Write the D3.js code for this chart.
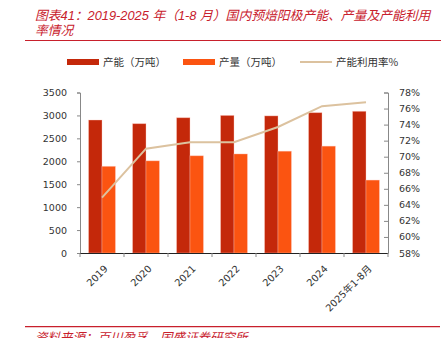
<!DOCTYPE html>
<html>
<head>
<meta charset="utf-8">
<script src="https://cdn.jsdelivr.net/npm/d3@7/dist/d3.min.js"></script>
<style>
  html, body { margin: 0; padding: 0; background: #fff; }
  svg { display: block; }
</style>
</head>
<body>
<div id="chart"></div>
<script>
// Categories and series
const categories = ["2019", "2020", "2021", "2022", "2023", "2024", "2025年1-8月"];
const capacity = [2900, 2820, 2950, 3000, 2990, 3060, 3090];     // 产能（万吨）
const output = [1890, 2010, 2120, 2160, 2220, 2330, 1590];       // 产量（万吨）
const utilization = [64.9, 71.0, 71.8, 71.8, 73.7, 76.3, 76.8];  // 产能利用率%
const leftTicks = [0, 500, 1000, 1500, 2000, 2500, 3000, 3500];
const rightTicks = [58, 60, 62, 64, 66, 68, 70, 72, 74, 76, 78];
const seriesNames = ["产能（万吨）", "产量（万吨）", "产能利用率%"];

const W = 447, H = 338;
const plot = { left: 80, right: 388, top: 92.5, bottom: 253 };
const colors = { capacity: "#c4280a", output: "#fb5411", line: "#dcc29f", red: "#c8202c", text: "#333" };
const numFont = "'DejaVu Sans', Verdana, sans-serif";
const cjkFont = "'Noto Sans CJK SC', sans-serif";

const svg = d3.select("#chart").append("svg").attr("width", W).attr("height", H);

// Title
const title = svg.append("g")
  .attr("fill", colors.red)
  .attr("font-style", "italic")
  .attr("font-size", 12.8)
  .attr("font-family", "'Liberation Sans', 'Noto Sans CJK SC', sans-serif");
title.append("text").attr("x", 35).attr("y", 20)
  .text("图表41：2019-2025 年（1-8 月）国内预焙阳极产能、产量及产能利用");
title.append("text").attr("x", 35).attr("y", 35).text("率情况");
svg.append("line").attr("x1", 25).attr("x2", 441).attr("y1", 40.5).attr("y2", 40.5)
  .attr("stroke", colors.red).attr("stroke-width", 1.2);

// Scales
const x = d3.scaleBand().domain(categories).range([plot.left, plot.right]).paddingInner(0.39).paddingOuter(0.195);
const xOuter = d3.scaleBand().domain(categories).range([plot.left, plot.right]);
const sub = d3.scaleBand().domain(["capacity", "output"]).range([0, x.bandwidth()]);
const yL = d3.scaleLinear().domain([0, 3500]).range([plot.bottom, plot.top]);
const yR = d3.scaleLinear().domain([58, 78]).range([plot.bottom, plot.top]);

// Bars
const bars = svg.append("g");
categories.forEach((c, i) => {
  [["capacity", capacity[i]], ["output", output[i]]].forEach(([key, v]) => {
    bars.append("rect")
      .attr("x", x(c) + sub(key))
      .attr("y", yL(v))
      .attr("width", sub.bandwidth())
      .attr("height", yL(0) - yL(v))
      .attr("fill", colors[key])
      .attr("stroke", "rgba(255,200,190,0.45)")
      .attr("stroke-width", 0.8);
  });
});

// Utilization line
const line = d3.line()
  .x((d, i) => xOuter(categories[i]) + xOuter.bandwidth() / 2)
  .y(d => yR(d));
svg.append("path").datum(utilization)
  .attr("d", line)
  .attr("fill", "none")
  .attr("stroke", colors.line)
  .attr("stroke-width", 2);

// Left axis
const axL = svg.append("g").attr("transform", `translate(${plot.left},0)`)
  .call(d3.axisLeft(yL).tickValues(leftTicks).tickSize(3).tickPadding(10).tickFormat(d3.format("d")));
axL.select(".domain").attr("stroke", "#888");
axL.selectAll(".tick line").attr("stroke", "#888");
axL.selectAll("text").attr("font-family", numFont).attr("font-size", 9.5).attr("fill", colors.text);

// Right axis (ticks point inward)
const axR = svg.append("g").attr("transform", `translate(${plot.right},0)`)
  .call(d3.axisRight(yR).tickValues(rightTicks).tickSize(-4).tickPadding(11).tickFormat(d => d + "%"));
axR.select(".domain").attr("stroke", "#888");
axR.selectAll(".tick line").attr("stroke", "#888");
axR.selectAll("text").attr("font-family", numFont).attr("font-size", 9.5).attr("fill", colors.text);

// Bottom axis: ticks at category boundaries
const axB = svg.append("g");
axB.append("line").attr("x1", plot.left).attr("x2", plot.right)
  .attr("y1", plot.bottom + 0.5).attr("y2", plot.bottom + 0.5).attr("stroke", "#222");
const bounds = categories.map(c => xOuter(c)).concat([xOuter.range()[1]]);
axB.selectAll("line.tk").data(bounds).join("line").attr("class", "tk")
  .attr("x1", d => d).attr("x2", d => d)
  .attr("y1", plot.bottom).attr("y2", plot.bottom + 4)
  .attr("stroke", "#888");
axB.selectAll("text").data(categories).join("text")
  .attr("transform", c => `translate(${xOuter(c) + xOuter.bandwidth() / 2 + 4},${plot.bottom + 14}) rotate(-45)`)
  .attr("text-anchor", "end")
  .attr("dy", "0.35em")
  .attr("font-family", "'DejaVu Sans', 'Noto Sans CJK SC', sans-serif")
  .attr("font-size", 9.8)
  .attr("fill", colors.text)
  .text(c => c);

// Legend
const legend = svg.append("g").attr("font-family", cjkFont).attr("font-size", 10.5).attr("fill", colors.text);
const legendItems = [
  { x: 67, name: seriesNames[0], type: "rect", color: colors.capacity },
  { x: 183, name: seriesNames[1], type: "rect", color: colors.output },
  { x: 300, name: seriesNames[2], type: "line", color: colors.line }
];
legendItems.forEach(it => {
  if (it.type === "rect") {
    legend.append("rect").attr("x", it.x).attr("y", 59).attr("width", 32).attr("height", 6).attr("fill", it.color);
  } else {
    legend.append("line").attr("x1", it.x).attr("x2", it.x + 32).attr("y1", 62).attr("y2", 62)
      .attr("stroke", it.color).attr("stroke-width", 2);
  }
  legend.append("text").attr("x", it.x + 36).attr("y", 62).attr("dy", "0.35em").text(it.name);
});

// Source note
svg.append("line").attr("x1", 25).attr("x2", 440).attr("y1", 326.7).attr("y2", 326.7)
  .attr("stroke", colors.red).attr("stroke-width", 1.2);
svg.append("text").attr("x", 35).attr("y", 342)
  .attr("fill", colors.red).attr("font-style", "italic").attr("font-size", 12.5)
  .attr("font-family", cjkFont)
  .text("资料来源：百川盈孚，国盛证券研究所");
</script>
</body>
</html>
